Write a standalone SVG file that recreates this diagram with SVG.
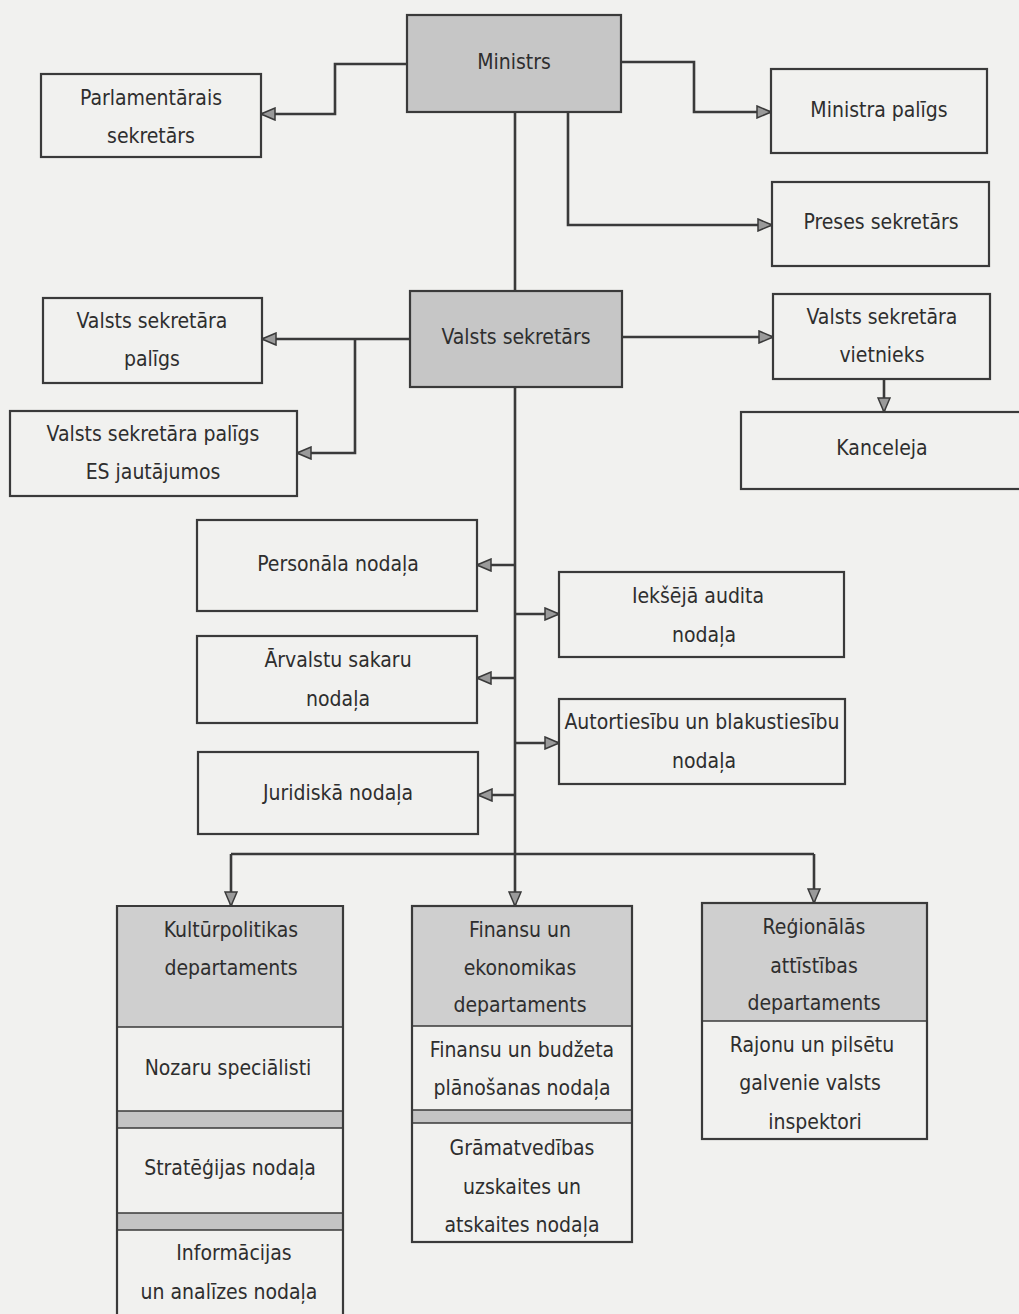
<svg xmlns="http://www.w3.org/2000/svg" width="1019" height="1314" viewBox="0 0 1019 1314">
<style>
.box{fill:none;stroke:#3a3a3a;stroke-width:2.2}
.hdr{fill:#cfcfcf;stroke:none}
.dark{fill:#c6c6c6;stroke:none}
.strip{fill:#c4c4c4;stroke:none}
.sep{stroke:#3a3a3a;stroke-width:1.5;fill:none}
text{font-family:"Liberation Sans Narrow","DejaVu Sans Condensed","Liberation Sans",sans-serif;font-size:21px;fill:#2e2e2e;text-anchor:middle;dominant-baseline:central}
.c path{fill:none;stroke:#3a3a3a;stroke-width:2.6}
</style>
<defs>
<marker id="ah" markerUnits="userSpaceOnUse" markerWidth="16" markerHeight="14" refX="15" refY="7" orient="auto">
<path d="M1,1 L15,7 L1,13 Z" fill="#9a9a9a" stroke="#3a3a3a" stroke-width="1.5"/>
</marker>
</defs>
<rect width="1019" height="1314" fill="#f1f1ef"/>

<g id="ministrs"><rect x="407" y="15" width="214" height="97" class="dark"/><rect x="407" y="15" width="214" height="97" class="box"/><text x="514" y="62">Ministrs</text></g>
<g id="parlamentarais"><rect x="41" y="74" width="220" height="83" class="box"/><text x="151" y="98">Parlamentārais</text><text x="151" y="136">sekretārs</text></g>
<g id="ministra-paligs"><rect x="771" y="69" width="216" height="84" class="box"/><text x="879" y="110">Ministra  palīgs</text></g>
<g id="preses"><rect x="772" y="182" width="217" height="84" class="box"/><text x="881" y="222">Preses  sekretārs</text></g>

<g id="valsts-sekretars"><rect x="410" y="291" width="212" height="96" class="dark"/><rect x="410" y="291" width="212" height="96" class="box"/><text x="516" y="337">Valsts  sekretārs</text></g>
<g id="vs-paligs"><rect x="43" y="298" width="219" height="85" class="box"/><text x="152" y="321">Valsts  sekretāra</text><text x="152" y="359">palīgs</text></g>
<g id="vs-paligs-es"><rect x="10" y="411" width="287" height="85" class="box"/><text x="153" y="434">Valsts  sekretāra  palīgs</text><text x="153" y="472">ES  jautājumos</text></g>
<g id="vs-vietnieks"><rect x="773" y="294" width="217" height="85" class="box"/><text x="882" y="317">Valsts  sekretāra</text><text x="882" y="355">vietnieks</text></g>
<g id="kanceleja"><rect x="741" y="412" width="300" height="77" class="box"/><text x="882" y="448">Kanceleja</text></g>

<g id="personala"><rect x="197" y="520" width="280" height="91" class="box"/><text x="338" y="564">Personāla  nodaļa</text></g>
<g id="arvalstu"><rect x="197" y="636" width="280" height="87" class="box"/><text x="338" y="660">Ārvalstu  sakaru</text><text x="338" y="699">nodaļa</text></g>
<g id="juridiska"><rect x="198" y="752" width="280" height="82" class="box"/><text x="338" y="793">Juridiskā  nodaļa</text></g>
<g id="ieksejo"><rect x="559" y="572" width="285" height="85" class="box"/><text x="698" y="596">Iekšējā  audita</text><text x="704" y="635">nodaļa</text></g>
<g id="autortiesibu"><rect x="559" y="699" width="286" height="85" class="box"/><text x="702" y="722">Autortiesību  un blakustiesību</text><text x="704" y="761">nodaļa</text></g>

<g id="kulturpolitikas">
<rect x="117" y="906" width="226" height="121" class="hdr"/>
<rect x="117" y="1111" width="226" height="17" class="strip"/>
<rect x="117" y="1213" width="226" height="17" class="strip"/>
<path d="M117,1330 V906 H343 V1330" class="box"/>
<path d="M117,1027 H343 M117,1111 H343 M117,1128 H343 M117,1213 H343 M117,1230 H343" class="sep"/>
<text x="231" y="930">Kultūrpolitikas</text><text x="231" y="968">departaments</text>
<text x="228" y="1068">Nozaru speciālisti</text>
<text x="230" y="1168">Stratēģijas nodaļa</text>
<text x="234" y="1253">Informācijas</text><text x="229" y="1292">un  analīzes nodaļa</text>
</g>
<g id="finansu">
<rect x="412" y="906" width="220" height="120" class="hdr"/>
<rect x="412" y="1110" width="220" height="13" class="strip"/>
<rect x="412" y="906" width="220" height="336" class="box"/>
<path d="M412,1026 H632 M412,1110 H632 M412,1123 H632" class="sep"/>
<text x="520" y="930">Finansu  un</text><text x="520" y="968">ekonomikas</text><text x="520" y="1005">departaments</text>
<text x="522" y="1050">Finansu  un budžeta</text><text x="522" y="1088">plānošanas nodaļa</text>
<text x="522" y="1148">Grāmatvedības</text><text x="522" y="1187">uzskaites un</text><text x="522" y="1225">atskaites nodaļa</text>
</g>
<g id="regionalas">
<rect x="702" y="903" width="225" height="118" class="hdr"/>
<rect x="702" y="903" width="225" height="236" class="box"/>
<path d="M702,1021 H927" class="sep"/>
<text x="814" y="927">Reģionālās</text><text x="814" y="966">attīstības</text><text x="814" y="1003">departaments</text>
<text x="812" y="1045">Rajonu un pilsētu</text><text x="810" y="1083">galvenie valsts</text><text x="815" y="1122">inspektori</text>
</g>

<g id="connectors" class="c">
<path d="M515,112 V291"/>
<path d="M515,387 V906" marker-end="url(#ah)"/>
<path d="M407,64 H335 V114 H261" marker-end="url(#ah)"/>
<path d="M621,62 H694 V112 H771" marker-end="url(#ah)"/>
<path d="M568,112 V225 H772" marker-end="url(#ah)"/>
<path d="M410,339 H262" marker-end="url(#ah)"/>
<path d="M355,339 V453 H297" marker-end="url(#ah)"/>
<path d="M622,337 H773" marker-end="url(#ah)"/>
<path d="M884,379 V412" marker-end="url(#ah)"/>
<path d="M515,565 H477" marker-end="url(#ah)"/>
<path d="M515,678 H477" marker-end="url(#ah)"/>
<path d="M515,795 H478" marker-end="url(#ah)"/>
<path d="M515,614 H559" marker-end="url(#ah)"/>
<path d="M515,743 H559" marker-end="url(#ah)"/>
<path d="M231,854 H814"/>
<path d="M231,854 V906" marker-end="url(#ah)"/>
<path d="M814,854 V903" marker-end="url(#ah)"/>
</g>
</svg>
